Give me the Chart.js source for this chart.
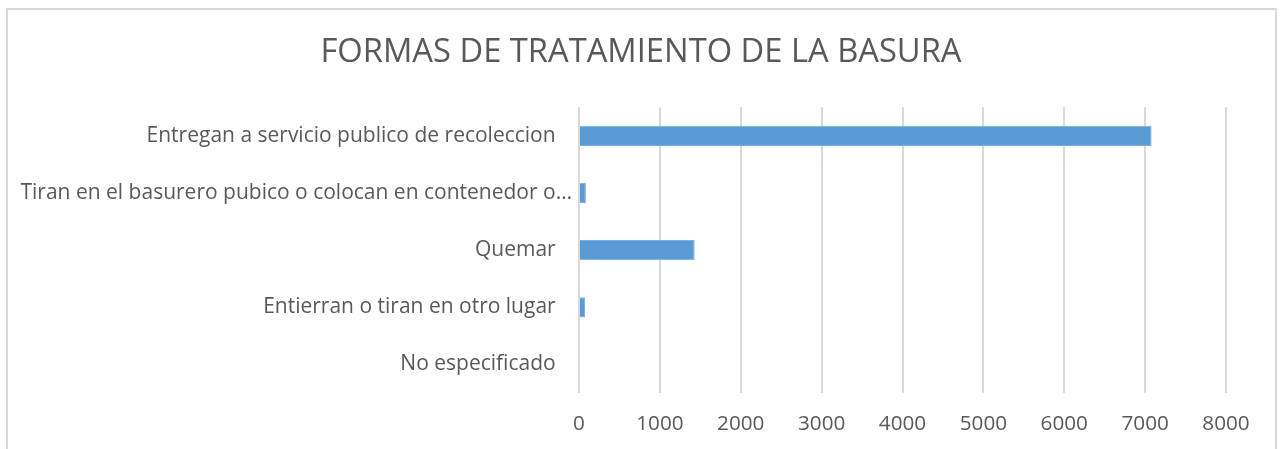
<!DOCTYPE html>
<html>
<head>
<meta charset="utf-8">
<script src="https://cdn.jsdelivr.net/npm/chart.js@4"></script>
<style>
  html, body { margin: 0; padding: 0; background: #ffffff; overflow: hidden; }
  #frame {
    position: absolute; left: 6px; top: 8px; width: 1271px; height: 470px;
    border: 2px solid #d9d9d9; box-sizing: border-box; background: #ffffff;
  }
  #wrap { position: absolute; left: 0; top: 0; width: 1280px; height: 449px; }
</style>
</head>
<body>
<div id="frame"></div>
<div id="wrap"><canvas id="chart" width="1280" height="449"></canvas></div>
<script>
// Categories (top to bottom) and household counts per treatment method
const categories = [
  "Entregan a servicio publico de recoleccion",
  "Tiran en el basurero pubico o colocan en contenedor o…",
  "Quemar",
  "Entierran o tiran en otro lugar",
  "No especificado"
];
const households = [7080, 85, 1430, 75, 0];
const xTicks = [0, 1000, 2000, 3000, 4000, 5000, 6000, 7000, 8000];
const chartTitle = "FORMAS DE TRATAMIENTO DE LA BASURA";

const textColor = "#595959";
const fontFamily = "'Open Sans', sans-serif";

new Chart(document.getElementById("chart"), {
  type: "bar",
  data: {
    labels: categories,
    datasets: [{
      data: households,
      backgroundColor: "#5b9bd5",
      borderColor: "#7aaee0",
      borderWidth: 1,
      categoryPercentage: 1.0,
      barPercentage: 0.355
    }]
  },
  options: {
    indexAxis: "y",
    responsive: false,
    animation: false,
    layout: { padding: { left: 2, right: 0, top: 0, bottom: 0 } },
    plugins: {
      legend: { display: false },
      tooltip: { enabled: false },
      title: {
        display: true,
        text: chartTitle,
        color: textColor,
        font: { family: fontFamily, size: 32.7, weight: "normal", lineHeight: 1.2 },
        padding: { top: 33, bottom: 35 }
      }
    },
    scales: {
      x: {
        min: 0,
        max: 8000,
        afterBuildTicks: (scale) => { scale.ticks = xTicks.map(v => ({ value: v })); },
        afterFit: (scale) => { scale.height = 56; },
        grid: { color: "#d9d9d9", lineWidth: 2, drawTicks: false },
        border: { display: false },
        ticks: {
          color: textColor,
          font: { family: fontFamily, size: 20.7 },
          padding: 19,
          callback: (v) => String(v)
        }
      },
      y: {
        afterFit: (scale) => { scale.width = 577; },
        grid: { display: false, drawTicks: false },
        border: { display: false },
        ticks: {
          color: textColor,
          font: { family: fontFamily, size: 21 },
          padding: 7,
          autoSkip: false,
          // shortened labels run closer to the axis than full ones
          callback: function (v) {
            const label = this.getLabelForValue(v);
            return label.endsWith("…") ? label : label + "   ";
          }
        }
      },
      // empty margin on the right side of the plot
      rightMargin: {
        type: "linear",
        position: "right",
        afterFit: (scale) => { scale.width = 54; },
        grid: { display: false, drawTicks: false },
        border: { display: false },
        ticks: { display: false }
      }
    }
  }
});
</script>
</body>
</html>
